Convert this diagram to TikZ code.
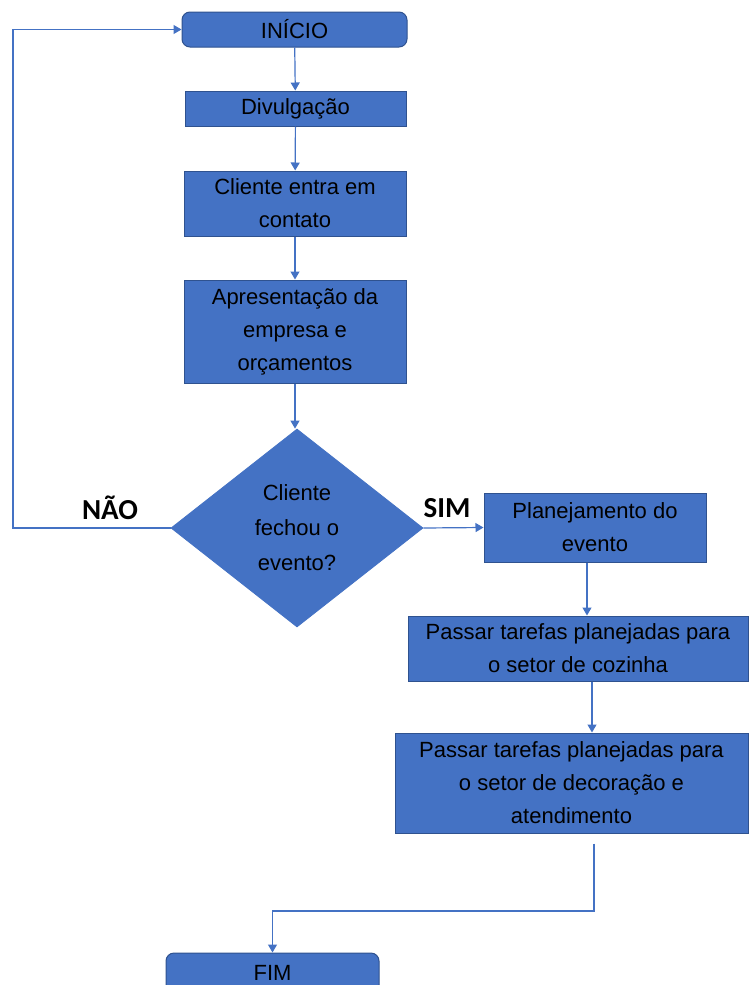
\documentclass[tikz,border=0pt]{standalone}
\usepackage{fontspec}
\setmainfont{Liberation Sans}
\newfontfamily\labelfont{Carlito}
\usetikzlibrary{shapes.geometric,arrows.meta}
\definecolor{boxblue}{HTML}{4472C4}
\definecolor{boxedge}{HTML}{2F528F}
\tikzset{
  stepbox/.style={rectangle,fill=boxblue,draw=boxedge,line width=0.5pt,align=center,
    inner sep=0pt,font=\fontsize{11}{16.5}\selectfont},
  endbox/.style={stepbox,rounded corners=4pt},
  decbox/.style={diamond,fill=boxblue,draw=boxblue,align=center,inner sep=0pt,
    font=\fontsize{11}{17.5}\selectfont},
  answer/.style={font=\labelfont\bfseries\fontsize{14.5}{17}\selectfont},
  conn/.style={draw=boxblue,line width=0.6pt,-{Triangle[length=4pt,width=4.5pt]}},
}
\begin{document}
\begin{tikzpicture}[x=0.5pt,y=-0.5pt]
    \useasboundingbox (0,0) rectangle (750,985);
    %% main column
    \node[endbox,minimum width=112.5pt,minimum height=17.5pt] (inicio) at (294.5,29.5) {INÍCIO};
    \node[stepbox,minimum width=110.5pt,minimum height=17.5pt] (divulg) at (295.5,108.5) {Divulgação};
    \node[stepbox,minimum width=111pt,minimum height=32.5pt] (contato) at (295,203.5) {Cliente entra em\\contato};
    \node[stepbox,minimum width=111pt,minimum height=51.5pt] (apres) at (295,331.5) {Apresentação da\\empresa e\\orçamentos};
    \node[decbox,minimum width=126pt,minimum height=99pt] (decisao) at (297,528) {Cliente\\fechou o\\evento?};
    %% right column
    \node[stepbox,minimum width=111pt,minimum height=34.5pt] (plan) at (595,527.5) {Planejamento do\\evento};
    \node[stepbox,minimum width=170pt,minimum height=32.5pt] (cozinha) at (578,648.5) {Passar tarefas planejadas para\\o setor de cozinha};
    \node[stepbox,minimum width=176.5pt,minimum height=50pt] (atend) at (571.5,783) {Passar tarefas planejadas para\\o setor de decoração e\\atendimento};
    \node[endbox,minimum width=106.5pt,minimum height=20pt] (fim) at (272.5,973) {FIM};
    %% answers
    \node[answer] (nao) at (110,508) {NÃO};
    \node[answer] (sim) at (447,508) {SIM};
    %% connectors
    \draw[conn] (inicio) -- (divulg);
    \draw[conn] (divulg) -- (contato);
    \draw[conn] (contato) -- (apres);
    \draw[conn] (apres.south) -- (apres.south |- decisao.north);
    \draw[conn] (decisao.east) -- (plan.west);
    \draw[conn] ([xshift=-4pt]plan.south) -- ([xshift=-4pt]plan.south |- cozinha.north);
    \draw[conn] ([xshift=7pt]cozinha.south) -- ([xshift=7pt]cozinha.south |- atend.north);
    \coordinate (loop) at (13,528);
    \draw[conn] (decisao.west) -- (loop) |- (inicio.west);
    \coordinate (turn) at (594,911);
    \draw[conn] ([yshift=-5pt]turn |- atend.south) -- (turn) -| (fim.north);
\end{tikzpicture}
\end{document}
